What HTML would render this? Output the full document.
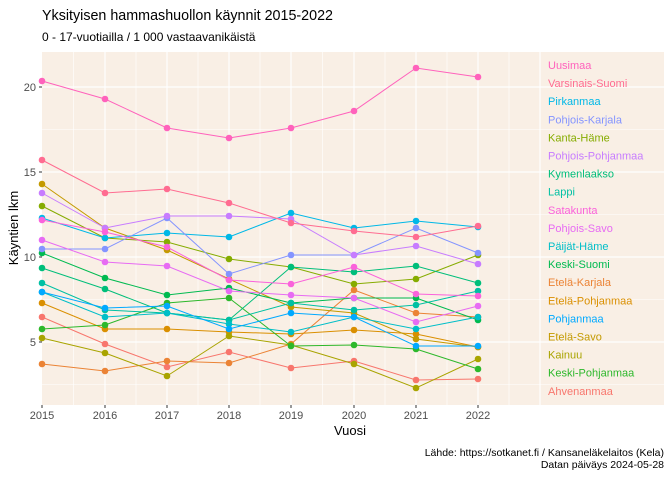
<!DOCTYPE html>
<html><head><meta charset="utf-8"><style>body{margin:0;background:#fff}svg{display:block;font-family:"Liberation Sans",sans-serif}</style></head><body>
<svg width="672" height="480" viewBox="0 0 672 480" xmlns="http://www.w3.org/2000/svg">
<rect width="672" height="480" fill="#fff"/>
<text x="42" y="20" font-size="15" fill="#000" textLength="291" lengthAdjust="spacingAndGlyphs">Yksityisen hammashuollon käynnit 2015-2022</text>
<text x="42" y="41" font-size="12" fill="#000">0 - 17-vuotiailla / 1 000 vastaavanikäistä</text>
<rect x="42" y="52" width="622" height="353" fill="#f9efe5"/>
<g stroke="#fff" stroke-width="0.6">
<line x1="42" x2="664" y1="384.5" y2="384.5"/><line x1="42" x2="664" y1="299.5" y2="299.5"/><line x1="42" x2="664" y1="214.5" y2="214.5"/><line x1="42" x2="664" y1="129.5" y2="129.5"/>
<line y1="52" y2="405" x1="73.5" x2="73.5"/><line y1="52" y2="405" x1="136" x2="136"/><line y1="52" y2="405" x1="198" x2="198"/><line y1="52" y2="405" x1="260" x2="260"/><line y1="52" y2="405" x1="322.5" x2="322.5"/><line y1="52" y2="405" x1="385" x2="385"/><line y1="52" y2="405" x1="447" x2="447"/><line y1="52" y2="405" x1="509" x2="509"/>
</g>
<g stroke="#fff" stroke-width="1.2">
<line x1="42" x2="664" y1="342" y2="342"/><line x1="42" x2="664" y1="257" y2="257"/><line x1="42" x2="664" y1="172" y2="172"/><line x1="42" x2="664" y1="87" y2="87"/>
<line y1="52" y2="405" x1="105" x2="105"/><line y1="52" y2="405" x1="167" x2="167"/><line y1="52" y2="405" x1="229" x2="229"/><line y1="52" y2="405" x1="291" x2="291"/><line y1="52" y2="405" x1="354" x2="354"/><line y1="52" y2="405" x1="416" x2="416"/><line y1="52" y2="405" x1="478" x2="478"/><line y1="52" y2="405" x1="540" x2="540"/>
</g>
<g id="series" fill="none" stroke-width="1"></g>
<g font-size="11" fill="#4d4d4d" text-anchor="end">
<text x="36" y="346">5</text><text x="36" y="261">10</text><text x="36" y="176">15</text><text x="36" y="91">20</text>
</g>
<g stroke="#333" stroke-width="1"><line x1="39" x2="42" y1="342" y2="342"/><line x1="39" x2="42" y1="257" y2="257"/><line x1="39" x2="42" y1="172" y2="172"/><line x1="39" x2="42" y1="87" y2="87"/>
<line x1="42" x2="42" y1="405" y2="408"/><line x1="105" x2="105" y1="405" y2="408"/><line x1="167" x2="167" y1="405" y2="408"/><line x1="229" x2="229" y1="405" y2="408"/><line x1="291" x2="291" y1="405" y2="408"/><line x1="354" x2="354" y1="405" y2="408"/><line x1="416" x2="416" y1="405" y2="408"/><line x1="478" x2="478" y1="405" y2="408"/></g>
<g font-size="11" fill="#4d4d4d" text-anchor="middle">
<text x="42" y="419">2015</text><text x="105" y="419">2016</text><text x="167" y="419">2017</text><text x="229" y="419">2018</text><text x="291" y="419">2019</text><text x="354" y="419">2020</text><text x="416" y="419">2021</text><text x="478" y="419">2022</text>
</g>
<text x="350" y="435" font-size="13" text-anchor="middle">Vuosi</text>
<text transform="translate(18,228) rotate(-90)" font-size="13" text-anchor="middle">Käyntien lkm</text>
<text x="664" y="456" font-size="10.5" text-anchor="end">Lähde: https://sotkanet.fi / Kansaneläkelaitos (Kela)</text>
<text x="664" y="468" font-size="10.5" text-anchor="end">Datan päiväys 2024-05-28</text>
<g id="labels" font-size="11"></g>
<script>
var X=[42,105,167,229,291,354,416,478];
var S=[
["Ahvenanmaa","#F8766D",[317,344,367,352,368,361,380,379]],
["Etelä-Karjala","#EB8335",[364,371,361,363,344,290,313,317]],
["Etelä-Pohjanmaa","#DA8F00",[303,329,329,332,334,330,334,347]],
["Etelä-Savo","#C49A00",[184,228,250,279,307,313,339,347]],
["Kainuu","#A9A400",[338,353,376,336,345,364,388,359]],
["Kanta-Häme","#86AC00",[206,238,242,259,267,284,279,255]],
["Keski-Pohjanmaa","#2DB82B",[329,325,303,298,346,345,349,369]],
["Keski-Suomi","#00BA50",[253,278,295,288,303,298,298,320]],
["Kymenlaakso","#00BE7A",[268,289,313,320,267,272,266,283]],
["Lappi","#00C0A3",[283,310,313,320,303,310,305,291]],
["Päijät-Häme","#00BEC8",[292,317,313,324,332,317,329,317]],
["Pirkanmaa","#00B8E7",[218,238,233,237,213,228,221,227]],
["Pohjanmaa","#00A9FF",[292,308,306,329,313,317,346,346]],
["Pohjois-Karjala","#8494FF",[249,249,218,274,255,255,228,253]],
["Pohjois-Pohjanmaa","#C77CFF",[193,228,216,216,219,255,246,264]],
["Pohjois-Savo","#E76BF3",[240,262,266,291,295,298,322,306]],
["Satakunta","#FA62DB",[220,232,247,280,284,267,294,296]],
["Uusimaa","#FF62BC",[81,99,128,138,128,111,68,77]],
["Varsinais-Suomi","#FF6C91",[160,193,189,203,223,231,237,226]]];
var order=["Uusimaa","Varsinais-Suomi","Pirkanmaa","Pohjois-Karjala","Kanta-Häme","Pohjois-Pohjanmaa","Kymenlaakso","Lappi","Satakunta","Pohjois-Savo","Päijät-Häme","Keski-Suomi","Etelä-Karjala","Etelä-Pohjanmaa","Pohjanmaa","Etelä-Savo","Kainuu","Keski-Pohjanmaa","Ahvenanmaa"];
var ns="http://www.w3.org/2000/svg",g=document.getElementById("series"),L=document.getElementById("labels"),col={};
S.forEach(function(s){col[s[0]]=s[1];var p=document.createElementNS(ns,"polyline");p.setAttribute("points",s[2].map(function(y,i){return X[i]+","+y}).join(" "));p.setAttribute("stroke",s[1]);g.appendChild(p);
s[2].forEach(function(y,i){var c=document.createElementNS(ns,"circle");c.setAttribute("cx",X[i]);c.setAttribute("cy",y);c.setAttribute("r","3.3");c.setAttribute("fill",s[1]);c.setAttribute("stroke","none");g.appendChild(c);});});
order.forEach(function(n,i){var t=document.createElementNS(ns,"text");t.setAttribute("x","548");t.setAttribute("y",(69+i*18.1).toFixed(1));t.setAttribute("fill",col[n]);t.textContent=n;L.appendChild(t);});
</script>
</svg>
</body></html>
